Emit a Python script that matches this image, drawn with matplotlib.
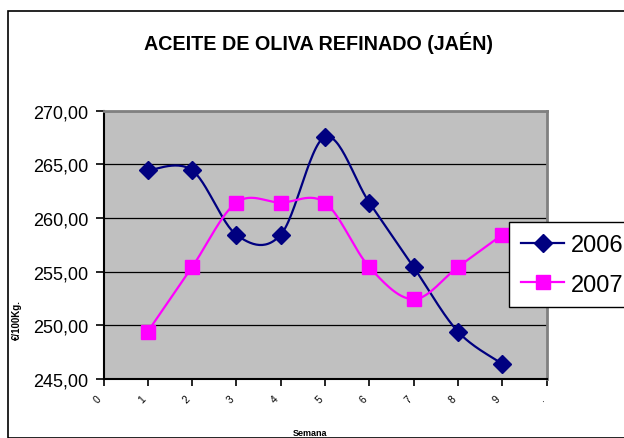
import numpy as np
import matplotlib
matplotlib.use('Agg')
import matplotlib.pyplot as plt
from matplotlib.patches import Rectangle
from matplotlib.ticker import FixedLocator, FuncFormatter

plt.rcParams['font.family'] = ['Liberation Sans', 'DejaVu Sans']

semanas = [1, 2, 3, 4, 5, 6, 7, 8, 9]
precio_2006 = [264.45, 264.45, 258.44, 258.44, 267.56, 261.44, 255.43, 249.42, 246.42]
precio_2007 = [249.42, 255.43, 261.44, 261.44, 261.44, 255.43, 252.43, 255.43, 258.44]
x_labels = ['0', '1', '2', '3', '4', '5', '6', '7', '8', '9', '.']
y_ticks = [245, 250, 255, 260, 265, 270]


def smooth(x, y, n=30):
    # Catmull-Rom curve through the points, like the smoothed lines of the sheet
    p = np.column_stack([x, y]).astype(float)
    p = np.vstack([p[0], p, p[-1]])
    t = np.linspace(0, 1, n)[:, None]
    out = []
    for i in range(1, len(p) - 2):
        p0, p1, p2, p3 = p[i - 1], p[i], p[i + 1], p[i + 2]
        seg = 0.5 * ((2 * p1) + (-p0 + p2) * t + (2 * p0 - 5 * p1 + 4 * p2 - p3) * t ** 2
                     + (-p0 + 3 * p1 - 3 * p2 + p3) * t ** 3)
        out.append(seg)
    c = np.vstack(out)
    return c[:, 0], c[:, 1]


fig = plt.figure(figsize=(6.24, 4.39), dpi=100)
fig.patches.append(Rectangle((8 / 624, 0), 1, 1 - 12 / 439, transform=fig.transFigure,
                             fill=False, edgecolor='black', linewidth=1.2, clip_on=False))

ax = fig.add_axes([103.5 / 624, 1 - 380 / 439, 443 / 624, (380 - 111.7) / 439])
ax.set_facecolor('#c0c0c0')

for vals, col, mk, ms, lab in [(precio_2006, '#000080', 'D', 9, '2006'),
                               (precio_2007, '#ff00ff', 's', 9.5, '2007')]:
    sx, sy = smooth(semanas, vals)
    ax.plot(sx, sy, color=col, linewidth=1.6, zorder=3)
    ax.plot(semanas, vals, linestyle='none', marker=mk, markersize=ms, color=col, zorder=4)
    ax.plot([], [], color=col, linewidth=1.6, marker=mk, markersize=ms, label=lab)

ax.set_xlim(0, 10)
ax.set_ylim(245, 270)
ax.yaxis.set_major_locator(FixedLocator(y_ticks))
ax.yaxis.set_major_formatter(FuncFormatter(lambda v, p: ('%.2f' % v).replace('.', ',')))
ax.set_xticks(range(len(x_labels)))
ax.set_xticklabels(x_labels, rotation=45, ha='right', fontsize=7.5)
ax.grid(axis='y', color='black', linewidth=0.9)
ax.set_axisbelow(True)

ax.tick_params(axis='y', labelsize=13, length=6, width=1.2, pad=5)
ax.tick_params(axis='x', length=5, width=1.2, pad=5)
for s in ['top', 'right']:
    ax.spines[s].set_color('#808080')
    ax.spines[s].set_linewidth(2)
for s in ['left', 'bottom']:
    ax.spines[s].set_color('black')
    ax.spines[s].set_linewidth(1.5)

fig.text(319 / 624, 1 - 43 / 439, 'ACEITE DE OLIVA REFINADO (JAÉN)', fontsize=14.2,
         fontweight='bold', ha='center', va='center')
fig.text(17 / 624, 1 - 320 / 439, '€/100Kg.', fontsize=7, fontweight='bold',
         rotation=90, ha='center', va='center')
fig.text(310 / 624, 1 - 434 / 439, 'Semana', fontsize=6.5, fontweight='bold',
         ha='center', va='center')

leg = ax.legend(loc='upper left', bbox_to_anchor=(509 / 624, 1 - 223 / 439),
                bbox_transform=fig.transFigure, fontsize=17, frameon=True, fancybox=False,
                edgecolor='black', framealpha=1, handlelength=1.85, handletextpad=0.25,
                borderpad=0.5, labelspacing=0.75, borderaxespad=0)
leg.get_frame().set_linewidth(1)

fig.savefig('out.png', dpi=100)
